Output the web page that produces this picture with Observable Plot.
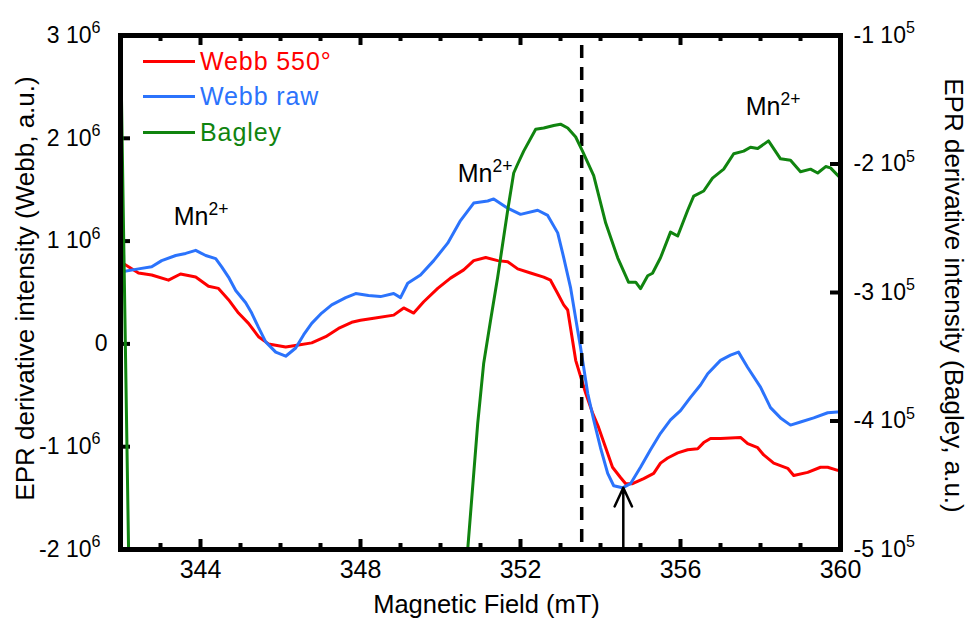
<!DOCTYPE html>
<html><head><meta charset="utf-8">
<script src="https://cdn.jsdelivr.net/npm/d3@7"></script>
<script src="https://cdn.jsdelivr.net/npm/@observablehq/plot@0.6"></script>
<style>
body{margin:0;background:#fff;}
#wrap{position:relative;width:971px;height:619px;overflow:hidden;font-family:"Liberation Sans",Arial,Helvetica,sans-serif;background:#fff;}
#wrap svg{position:absolute;left:0;top:0;}
#legend{position:absolute;left:143px;top:44px;}
.row{display:flex;align-items:center;height:35.3px;font-size:25px;letter-spacing:0.9px;white-space:nowrap;}
.sw{width:52px;height:3px;margin-right:5px;}
</style></head><body><div id="wrap"><div id="legend"></div></div>
<script>
// ---------- data ----------
// Webb 550° : field (mT), intensity (units of 10^6 a.u.)
const webb550Field = [342.00,342.45,342.78,343.20,343.50,343.88,344.20,344.45,344.70,344.95,345.20,345.45,345.70,346.13,346.45,346.78,347.13,347.45,347.78,348.00,348.33,348.83,349.08,349.33,349.58,349.93,350.25,350.58,350.83,351.13,351.43,351.68,351.93,352.25,352.58,352.75,352.93,353.08,353.18,353.38,353.63,353.80,353.95,354.13,354.30,354.50,354.63,354.80,355.08,355.33,355.50,355.68,355.93,356.18,356.43,356.58,356.75,357.00,357.50,357.68,357.93,358.08,358.33,358.68,358.83,359.18,359.50,359.68,359.93,360.00];
const webb550Intensity = [0.80,0.69,0.67,0.62,0.68,0.65,0.56,0.54,0.43,0.30,0.20,0.07,0.00,-0.03,-0.01,0.01,0.07,0.15,0.21,0.23,0.25,0.28,0.35,0.30,0.41,0.54,0.64,0.72,0.81,0.84,0.81,0.80,0.73,0.69,0.65,0.62,0.49,0.38,0.33,-0.16,-0.48,-0.67,-0.81,-1.01,-1.20,-1.30,-1.36,-1.36,-1.31,-1.26,-1.16,-1.11,-1.06,-1.03,-1.02,-0.96,-0.92,-0.92,-0.91,-0.97,-1.01,-1.08,-1.16,-1.21,-1.28,-1.25,-1.20,-1.20,-1.23,-1.23];
// Webb raw
const webbRawField = [342.00,342.45,342.78,343.03,343.38,343.63,343.88,344.13,344.38,344.53,344.70,344.88,345.13,345.28,345.45,345.63,345.88,346.13,346.38,346.58,346.78,347.03,347.28,347.63,347.88,348.20,348.50,348.83,349.00,349.18,349.50,349.83,350.18,350.50,350.83,351.18,351.33,351.68,352.00,352.43,352.68,352.93,353.08,353.25,353.43,353.50,353.68,353.83,354.00,354.18,354.33,354.55,354.75,355.00,355.25,355.50,355.75,356.00,356.25,356.50,356.68,357.00,357.25,357.45,357.68,358.00,358.25,358.50,358.75,359.00,359.33,359.68,360.00];
const webbRawIntensity = [0.70,0.73,0.75,0.81,0.86,0.88,0.91,0.86,0.83,0.75,0.65,0.52,0.40,0.30,0.16,0.02,-0.08,-0.12,-0.04,0.09,0.20,0.30,0.38,0.45,0.49,0.47,0.46,0.49,0.45,0.59,0.67,0.81,0.98,1.20,1.37,1.39,1.41,1.32,1.26,1.30,1.25,1.08,0.84,0.55,0.13,-0.03,-0.48,-0.74,-1.01,-1.26,-1.38,-1.40,-1.36,-1.20,-1.03,-0.87,-0.74,-0.65,-0.52,-0.40,-0.29,-0.16,-0.11,-0.08,-0.23,-0.42,-0.62,-0.72,-0.79,-0.76,-0.72,-0.67,-0.66];
// Bagley : field (mT), intensity (units of 10^5 a.u., right axis)
const bagleyField = [342.00,342.23,350.53,350.68,350.93,351.08,351.25,351.43,351.68,351.83,351.93,352.08,352.38,352.58,352.83,353.00,353.18,353.38,353.55,353.83,354.13,354.43,354.70,354.88,355.00,355.18,355.30,355.50,355.75,355.93,356.18,356.33,356.58,356.80,357.08,357.33,357.58,357.75,357.93,358.20,358.50,358.75,359.00,359.25,359.43,359.63,359.75,360.00];
const bagleyIntensity = [-1.00,-5.56,-5.56,-5.00,-4.02,-3.55,-3.22,-2.88,-2.36,-2.07,-2.00,-1.90,-1.73,-1.72,-1.70,-1.69,-1.72,-1.79,-1.90,-2.09,-2.46,-2.73,-2.92,-2.92,-2.97,-2.87,-2.85,-2.73,-2.53,-2.56,-2.36,-2.25,-2.21,-2.11,-2.04,-1.92,-1.90,-1.87,-1.88,-1.82,-1.96,-1.97,-2.06,-2.04,-2.07,-2.02,-2.03,-2.11];

// axes / ticks
const xDomain = [342, 360];
const xMajorTicks = [342, 344, 348, 352, 356, 360];
const xMajorLabels = ["", "344", "348", "352", "356", "360"];
const xMinorTicks = [343, 345, 346, 347, 349, 350, 351, 353, 354, 355, 357, 358, 359];
const leftDomain = [-2, 3];
const leftTicks = [-2, -1, 0, 1, 2, 3];
const leftTickLabels = ["-2 10^6", "-1 10^6", "0", "1 10^6", "2 10^6", "3 10^6"];
const rightDomain = [-5, -1];
const rightTicks = [-5, -4, -3, -2, -1];
const rightTickLabels = ["-5 10^5", "-4 10^5", "-3 10^5", "-2 10^5", "-1 10^5"];

// reference markers
const dashedField = [353.53];
const arrowField = [354.57];
const arrowFrom = [-2.0];
const arrowTo = [-1.40];

// annotations (field, left-axis intensity)
const annotationText = ["Mn^2+", "Mn^2+", "Mn^2+"];
const annotationField = [343.33, 350.43, 357.63];
const annotationIntensity = [1.23, 1.65, 2.30];

const seriesNames = ["Webb 550°", "Webb raw", "Bagley"];
const seriesColors = ["#ff0000", "#2b73fc", "#10840f"];

const xTitle = "Magnetic Field (mT)";
const leftTitle = "EPR derivative intensity (Webb, a.u.)";
const rightTitle = "EPR derivative intensity (Bagley, a.u.)";

// ---------- build ----------
const W = 971, H = 619, mt = 35, mb = 70, ml = 120, mr = 131;
const innerH = H - mt - mb, innerW = W - ml - mr;
const font = "Liberation Sans, Arial, Helvetica, sans-serif";
const zip = (xs, ys) => xs.map((x, i) => ({x, y: ys[i]}));

const red = zip(webb550Field, webb550Intensity);
const blue = zip(webbRawField, webbRawIntensity);
const green = zip(bagleyField, bagleyIntensity);
const annotations = annotationText.map((t, i) => ({t, x: annotationField[i], y: annotationIntensity[i]}));
const arrows = arrowField.map((x, i) => ({x, y1: arrowFrom[i], y2: arrowTo[i]}));

const common = {
  width: W, height: H, marginTop: mt, marginBottom: mb, marginLeft: ml, marginRight: mr
};

const webbPlot = Plot.plot({
  ...common,
  style: {fontFamily: font, background: "transparent", overflow: "visible"},
  x: {domain: xDomain},
  y: {domain: leftDomain},
  marks: [
    Plot.line(red, {x: "x", y: "y", stroke: seriesColors[0], strokeWidth: 3}),
    Plot.line(blue, {x: "x", y: "y", stroke: seriesColors[1], strokeWidth: 3}),
    Plot.ruleX(dashedField, {x: d => d, stroke: "black", strokeWidth: 3.5, strokeDasharray: "13,9", strokeDashoffset: 12}),
    Plot.arrow(arrows, {x1: "x", x2: "x", y1: "y1", y2: "y2", stroke: "black", strokeWidth: 2.5, headLength: 16, headAngle: 50}),
    Plot.text(annotations, {x: "x", y: "y", text: "t", textAnchor: "start", lineAnchor: "middle", fontSize: 25, fill: "black"}),
    // ticks (inward)
    Plot.tickX(xMajorTicks, {x: d => d, insetTop: innerH - 10, strokeWidth: 4, stroke: "black"}),
    Plot.tickX(xMajorTicks, {x: d => d, insetBottom: innerH - 10, strokeWidth: 4, stroke: "black"}),
    Plot.tickX(xMinorTicks, {x: d => d, insetTop: innerH - 6, strokeWidth: 4, stroke: "black"}),
    Plot.tickX(xMinorTicks, {x: d => d, insetBottom: innerH - 6, strokeWidth: 4, stroke: "black"}),
    Plot.tickY(leftTicks, {y: d => d, insetRight: innerW - 10, strokeWidth: 4, stroke: "black"}),
    Plot.axisX(xMajorTicks, {anchor: "bottom", tickSize: 0, tickPadding: 11, fontSize: 25, label: null,
      tickFormat: d => xMajorLabels[xMajorTicks.indexOf(d)]}),
    Plot.axisY(leftTicks, {anchor: "left", tickSize: 0, tickPadding: 13, fontSize: 23, label: null,
      tickFormat: d => leftTickLabels[leftTicks.indexOf(d)]}),
    Plot.text([xTitle], {text: d => d, frameAnchor: "bottom", textAnchor: "middle", lineAnchor: "middle", dx: 6, dy: 55, fontSize: 25.5, fill: "black"}),
    Plot.text([leftTitle], {text: d => d, frameAnchor: "left", textAnchor: "middle", lineAnchor: "middle", dx: -95, dy: -4, rotate: -90, fontSize: 26, fill: "black"})
  ]
});

const bagleyPlot = Plot.plot({
  ...common,
  style: {fontFamily: font, background: "transparent", overflow: "visible"},
  x: {domain: xDomain, axis: null},
  y: {domain: rightDomain},
  marks: [
    Plot.line(green, {x: "x", y: "y", stroke: seriesColors[2], strokeWidth: 3, clip: true}),
    Plot.tickY(rightTicks, {y: d => d, insetLeft: innerW - 10, strokeWidth: 4, stroke: "black"}),
    Plot.axisY(rightTicks, {anchor: "right", tickSize: 0, tickPadding: 13, fontSize: 23, label: null,
      tickFormat: d => rightTickLabels[rightTicks.indexOf(d)]}),
    Plot.text([rightTitle], {text: d => d, frameAnchor: "right", textAnchor: "middle", lineAnchor: "middle", dx: 113, dy: 3, rotate: 90, fontSize: 26, fill: "black"}),
    Plot.frame({stroke: "black", strokeWidth: 5})
  ]
});

const wrap = document.getElementById("wrap");
wrap.insertBefore(webbPlot, wrap.firstChild);
wrap.insertBefore(bagleyPlot, document.getElementById("legend"));

// superscripts: "a^b" -> a + raised b
const NS = "http://www.w3.org/2000/svg";
for (const svg of [webbPlot, bagleyPlot]) {
  svg.querySelectorAll("text").forEach(t => {
    const s = t.textContent;
    if (!s.includes("^")) return;
    const [base, sup] = s.split("^");
    const cs = getComputedStyle(t);
    const fs = parseFloat(cs.fontSize) || 20;
    const anchorEnd = cs.textAnchor === "end";
    while (t.firstChild) t.removeChild(t.firstChild);
    const b = document.createElementNS(NS, "tspan");
    b.textContent = base;
    const p = document.createElementNS(NS, "tspan");
    p.textContent = sup;
    p.setAttribute("font-size", (fs * 0.7).toFixed(1));
    p.setAttribute("dy", (-fs * 0.42).toFixed(1));
    t.appendChild(b); t.appendChild(p);
    if (anchorEnd) {
      const q = document.createElementNS(NS, "tspan");
      q.textContent = "\u2002";
      q.setAttribute("font-size", "14");
      t.appendChild(q);
    }
  });
}

// legend
const legend = document.getElementById("legend");
seriesNames.forEach((n, i) => {
  const row = document.createElement("div");
  row.className = "row";
  const sw = document.createElement("span");
  sw.className = "sw";
  sw.style.background = seriesColors[i];
  const tx = document.createElement("span");
  tx.textContent = n;
  tx.style.color = seriesColors[i];
  row.appendChild(sw); row.appendChild(tx);
  legend.appendChild(row);
});
</script>
</body></html>
